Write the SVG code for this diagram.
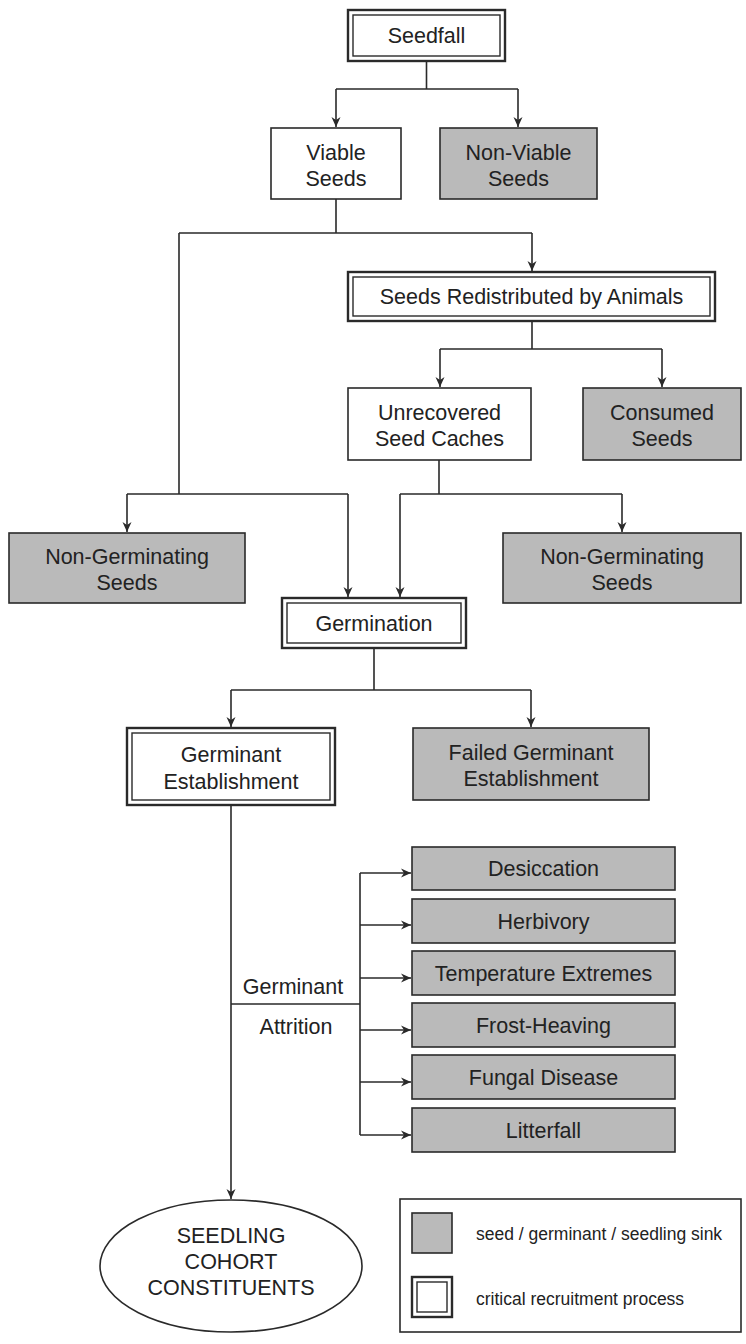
<svg xmlns="http://www.w3.org/2000/svg" width="746" height="1344" viewBox="0 0 746 1344">
<defs>
<marker id="ah" markerUnits="userSpaceOnUse" markerWidth="12" markerHeight="10" refX="10" refY="5" orient="auto">
<path d="M0,0.5 L10,5 L0,9.5 L3,5 Z" fill="#2a2a2a"/>
</marker>
<style>
text{font-family:"Liberation Sans",Arial,sans-serif;font-size:21.5px;fill:#222;text-anchor:middle}
.leg{font-size:17.5px;text-anchor:start}
.plain{fill:#fff;stroke:#2a2a2a;stroke-width:1.6}
.sink{fill:#bababa;stroke:#2a2a2a;stroke-width:1.6}
.outer{fill:#fff;stroke:#2a2a2a;stroke-width:2.4}
.inner{fill:none;stroke:#2a2a2a;stroke-width:1.4}
.ln{fill:none;stroke:#2a2a2a;stroke-width:1.6}
.ar{fill:none;stroke:#2a2a2a;stroke-width:1.6;marker-end:url(#ah)}
</style>
</defs>
<rect width="746" height="1344" fill="#fff"/>

<g id="connectors">
<path class="ln" d="M426.5,61 V89 M336,89 H518"/>
<path class="ar" d="M336,89 V127"/>
<path class="ar" d="M518,89 V127"/>
<path class="ln" d="M336,199 V233 M179,233 H532 M179,233 V494 M127,494 H348"/>
<path class="ar" d="M532,233 V271"/>
<path class="ar" d="M127,494 V532"/>
<path class="ar" d="M348,494 V597"/>
<path class="ln" d="M532,321 V349 M440,349 H662"/>
<path class="ar" d="M440,349 V387"/>
<path class="ar" d="M662,349 V387"/>
<path class="ln" d="M439,460 V494 M400,494 H622"/>
<path class="ar" d="M400,494 V597"/>
<path class="ar" d="M622,494 V532"/>
<path class="ln" d="M374,648 V690 M231,690 H531"/>
<path class="ar" d="M231,690 V727"/>
<path class="ar" d="M531,690 V727"/>
<path class="ar" d="M231,805 V1199"/>
<path class="ln" d="M231,1004 H360 M360,873 V1135"/>
<path class="ar" d="M360,873 H411"/>
<path class="ar" d="M360,925 H411"/>
<path class="ar" d="M360,978 H411"/>
<path class="ar" d="M360,1030 H411"/>
<path class="ar" d="M360,1082 H411"/>
<path class="ar" d="M360,1135 H411"/>
<text x="293" y="994">Germinant</text>
<text x="296" y="1034">Attrition</text>
</g>

<g id="seedfall">
<rect class="outer" x="348" y="10" width="157" height="51"/>
<rect class="inner" x="353" y="15" width="147" height="41"/>
<text x="426.5" y="43">Seedfall</text>
</g>

<g id="viable">
<rect class="plain" x="271" y="128" width="130" height="71"/>
<text x="336" y="160">Viable</text>
<text x="336" y="186">Seeds</text>
</g>

<g id="nonviable">
<rect class="sink" x="440" y="128" width="157" height="71"/>
<text x="518.5" y="160">Non-Viable</text>
<text x="518.5" y="186">Seeds</text>
</g>

<g id="redistributed">
<rect class="outer" x="348" y="272" width="367" height="49"/>
<rect class="inner" x="353" y="277" width="357" height="39"/>
<text x="531.5" y="304">Seeds Redistributed by Animals</text>
</g>

<g id="unrecovered">
<rect class="plain" x="348" y="388" width="183" height="72"/>
<text x="439.5" y="420">Unrecovered</text>
<text x="439.5" y="446">Seed Caches</text>
</g>

<g id="consumed">
<rect class="sink" x="583" y="388" width="158" height="72"/>
<text x="662" y="420">Consumed</text>
<text x="662" y="446">Seeds</text>
</g>

<g id="nongerm-left">
<rect class="sink" x="9" y="533" width="236" height="70"/>
<text x="127" y="564">Non-Germinating</text>
<text x="127" y="590">Seeds</text>
</g>

<g id="nongerm-right">
<rect class="sink" x="503" y="533" width="238" height="70"/>
<text x="622" y="564">Non-Germinating</text>
<text x="622" y="590">Seeds</text>
</g>

<g id="germination">
<rect class="outer" x="282" y="598" width="184" height="50"/>
<rect class="inner" x="287" y="603" width="174" height="40"/>
<text x="374" y="631">Germination</text>
</g>

<g id="germinant-establishment">
<rect class="outer" x="127" y="728" width="208" height="77"/>
<rect class="inner" x="132" y="733" width="198" height="67"/>
<text x="231" y="762">Germinant</text>
<text x="231" y="789">Establishment</text>
</g>

<g id="failed-establishment">
<rect class="sink" x="413" y="728" width="236" height="72"/>
<text x="531" y="760">Failed Germinant</text>
<text x="531" y="786">Establishment</text>
</g>

<g id="desiccation">
<rect class="sink" x="412" y="847" width="263" height="43"/>
<text x="543.5" y="876">Desiccation</text>
</g>
<g id="herbivory">
<rect class="sink" x="412" y="899" width="263" height="44"/>
<text x="543.5" y="929">Herbivory</text>
</g>
<g id="temperature">
<rect class="sink" x="412" y="951" width="263" height="44"/>
<text x="543.5" y="981">Temperature Extremes</text>
</g>
<g id="frost">
<rect class="sink" x="412" y="1003" width="263" height="44"/>
<text x="543.5" y="1033">Frost-Heaving</text>
</g>
<g id="fungal">
<rect class="sink" x="412" y="1055" width="263" height="44"/>
<text x="543.5" y="1085">Fungal Disease</text>
</g>
<g id="litterfall">
<rect class="sink" x="412" y="1108" width="263" height="44"/>
<text x="543.5" y="1138">Litterfall</text>
</g>

<g id="seedling-cohort">
<ellipse cx="231" cy="1266" rx="131" ry="66" fill="#fff" stroke="#2a2a2a" stroke-width="1.6"/>
<text x="231" y="1243">SEEDLING</text>
<text x="231" y="1269">COHORT</text>
<text x="231" y="1295">CONSTITUENTS</text>
</g>

<g id="legend">
<rect x="400" y="1199" width="341" height="133" fill="#fff" stroke="#2a2a2a" stroke-width="1.6"/>
<rect class="sink" x="412" y="1213" width="40" height="40"/>
<rect class="outer" x="412" y="1277" width="40" height="40"/>
<rect class="inner" x="417" y="1282" width="30" height="30"/>
<text class="leg" x="476" y="1240">seed / germinant / seedling sink</text>
<text class="leg" x="476" y="1305">critical recruitment process</text>
</g>
</svg>
